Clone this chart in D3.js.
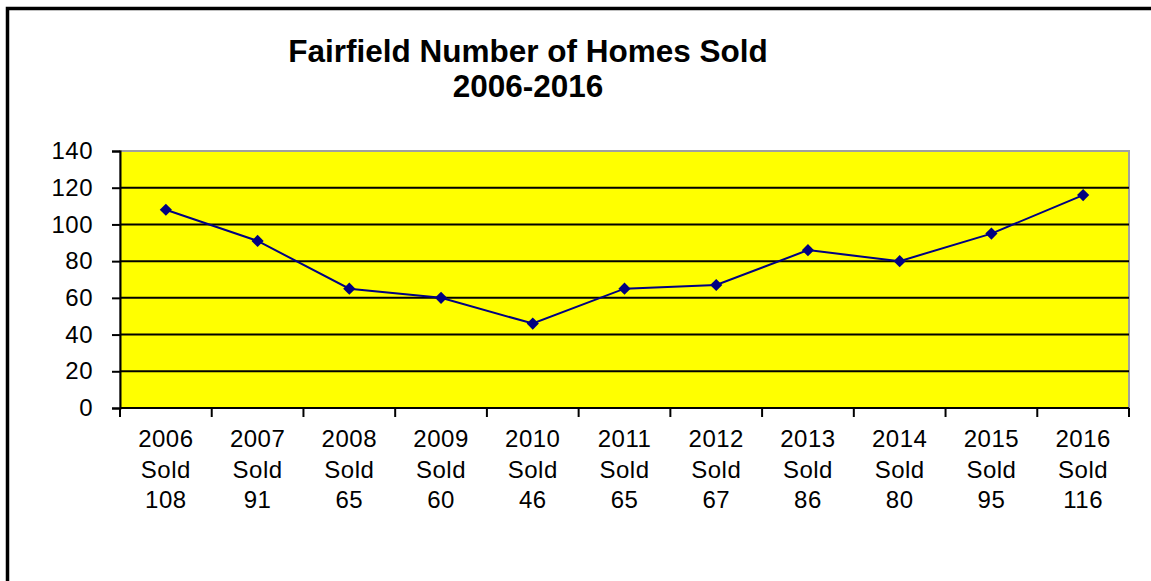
<!DOCTYPE html>
<html>
<head>
<meta charset="utf-8">
<script src="https://cdn.jsdelivr.net/npm/d3@7"></script>
<style>
  html, body { margin: 0; padding: 0; background: #fff; }
  svg { display: block; }
  text { font-family: "Liberation Sans", Arial, sans-serif; }
</style>
</head>
<body>
<div id="chart"></div>
<script>
// chart data
const years = ['2006', '2007', '2008', '2009', '2010', '2011', '2012', '2013', '2014', '2015', '2016'];
const homesSold = [108, 91, 65, 60, 46, 65, 67, 86, 80, 95, 116];
const yTicks = [0, 20, 40, 60, 80, 100, 120, 140];
const titleLines = ['Fairfield Number of Homes Sold', '2006-2016'];

const W = 1151, H = 581;
const margin = {top: 151, right: 22, bottom: 173, left: 120};
const width = W - margin.left - margin.right;
const height = H - margin.top - margin.bottom;

const svg = d3.select('#chart').append('svg')
  .attr('width', W)
  .attr('height', H);

// outer frame (only top and left show in the picture)
svg.append('path')
  .attr('d', 'M7.5,' + H + ' V8.5 H' + W)
  .attr('fill', 'none')
  .attr('stroke', '#000')
  .attr('stroke-width', 3.5);

// title
svg.append('text')
  .attr('x', 528)
  .attr('y', 62)
  .attr('text-anchor', 'middle')
  .style('font-weight', 'bold')
  .style('font-size', '31.5px')
  .selectAll('tspan')
  .data(titleLines)
  .enter().append('tspan')
  .attr('x', 528)
  .attr('dy', (d, i) => i === 0 ? 0 : 35)
  .text(d => d);

const g = svg.append('g')
  .attr('transform', 'translate(' + margin.left + ',' + margin.top + ')');

const x = d3.scaleBand()
  .domain(years)
  .range([0, width]);

const y = d3.scaleLinear()
  .domain([0, 140])
  .range([height, 0]);

// plot area
g.append('rect')
  .attr('width', width)
  .attr('height', height)
  .attr('fill', '#ffff00')
  .attr('stroke', '#a0a0a0')
  .attr('stroke-width', 2);

// gridlines
g.selectAll('.grid')
  .data(yTicks.filter(d => d > 0 && d < 140))
  .enter().append('line')
  .attr('class', 'grid')
  .attr('x1', 0)
  .attr('x2', width)
  .attr('y1', d => y(d))
  .attr('y2', d => y(d))
  .attr('stroke', '#000')
  .attr('stroke-width', 2);

// y axis
const yAxis = d3.axisLeft(y)
  .tickValues(yTicks)
  .tickSize(8)
  .tickPadding(19);

g.append('g')
  .attr('class', 'y axis')
  .call(yAxis)
  .call(a => a.select('.domain').attr('stroke-width', 2))
  .call(a => a.selectAll('.tick line').attr('stroke-width', 2))
  .selectAll('text')
  .style('font-size', '24px')
  .style('letter-spacing', '0.5px')
  .attr('fill', '#000');

// x axis: ticks on band boundaries
const xAxisG = g.append('g')
  .attr('class', 'x axis')
  .attr('transform', 'translate(0,' + height + ')');

xAxisG.append('line')
  .attr('x1', 0)
  .attr('x2', width)
  .attr('stroke', '#000')
  .attr('stroke-width', 2);

const boundaries = years.map(d => x(d)).concat([width]);
xAxisG.selectAll('.xtick')
  .data(boundaries)
  .enter().append('line')
  .attr('class', 'xtick')
  .attr('x1', d => d)
  .attr('x2', d => d)
  .attr('y1', 0)
  .attr('y2', 9)
  .attr('stroke', '#000')
  .attr('stroke-width', 2);

const labels = xAxisG.selectAll('.xlabel')
  .data(years)
  .enter().append('text')
  .attr('class', 'xlabel')
  .attr('text-anchor', 'middle')
  .attr('y', 39)
  .style('font-size', '24px')
  .style('letter-spacing', '0.5px')
  .attr('fill', '#000');

labels.each(function(d, i) {
  const t = d3.select(this);
  const cx = x(d) + x.bandwidth() / 2;
  [d, 'Sold', String(homesSold[i])].forEach((s, j) => {
    t.append('tspan')
      .attr('x', cx)
      .attr('dy', j === 0 ? 0 : 30.5)
      .text(s);
  });
});

// line series
const pts = years.map((d, i) => ({year: d, v: homesSold[i]}));

const line = d3.line()
  .x(d => x(d.year) + x.bandwidth() / 2)
  .y(d => y(d.v));

g.append('path')
  .datum(pts)
  .attr('d', line)
  .attr('fill', 'none')
  .attr('stroke', '#000080')
  .attr('stroke-width', 2);

g.selectAll('.marker')
  .data(pts)
  .enter().append('path')
  .attr('class', 'marker')
  .attr('d', d3.symbol().type(d3.symbolDiamond2).size(95))
  .attr('transform', d => 'translate(' + (x(d.year) + x.bandwidth() / 2) + ',' + y(d.v) + ')')
  .attr('fill', '#000080');
</script>
</body>
</html>
